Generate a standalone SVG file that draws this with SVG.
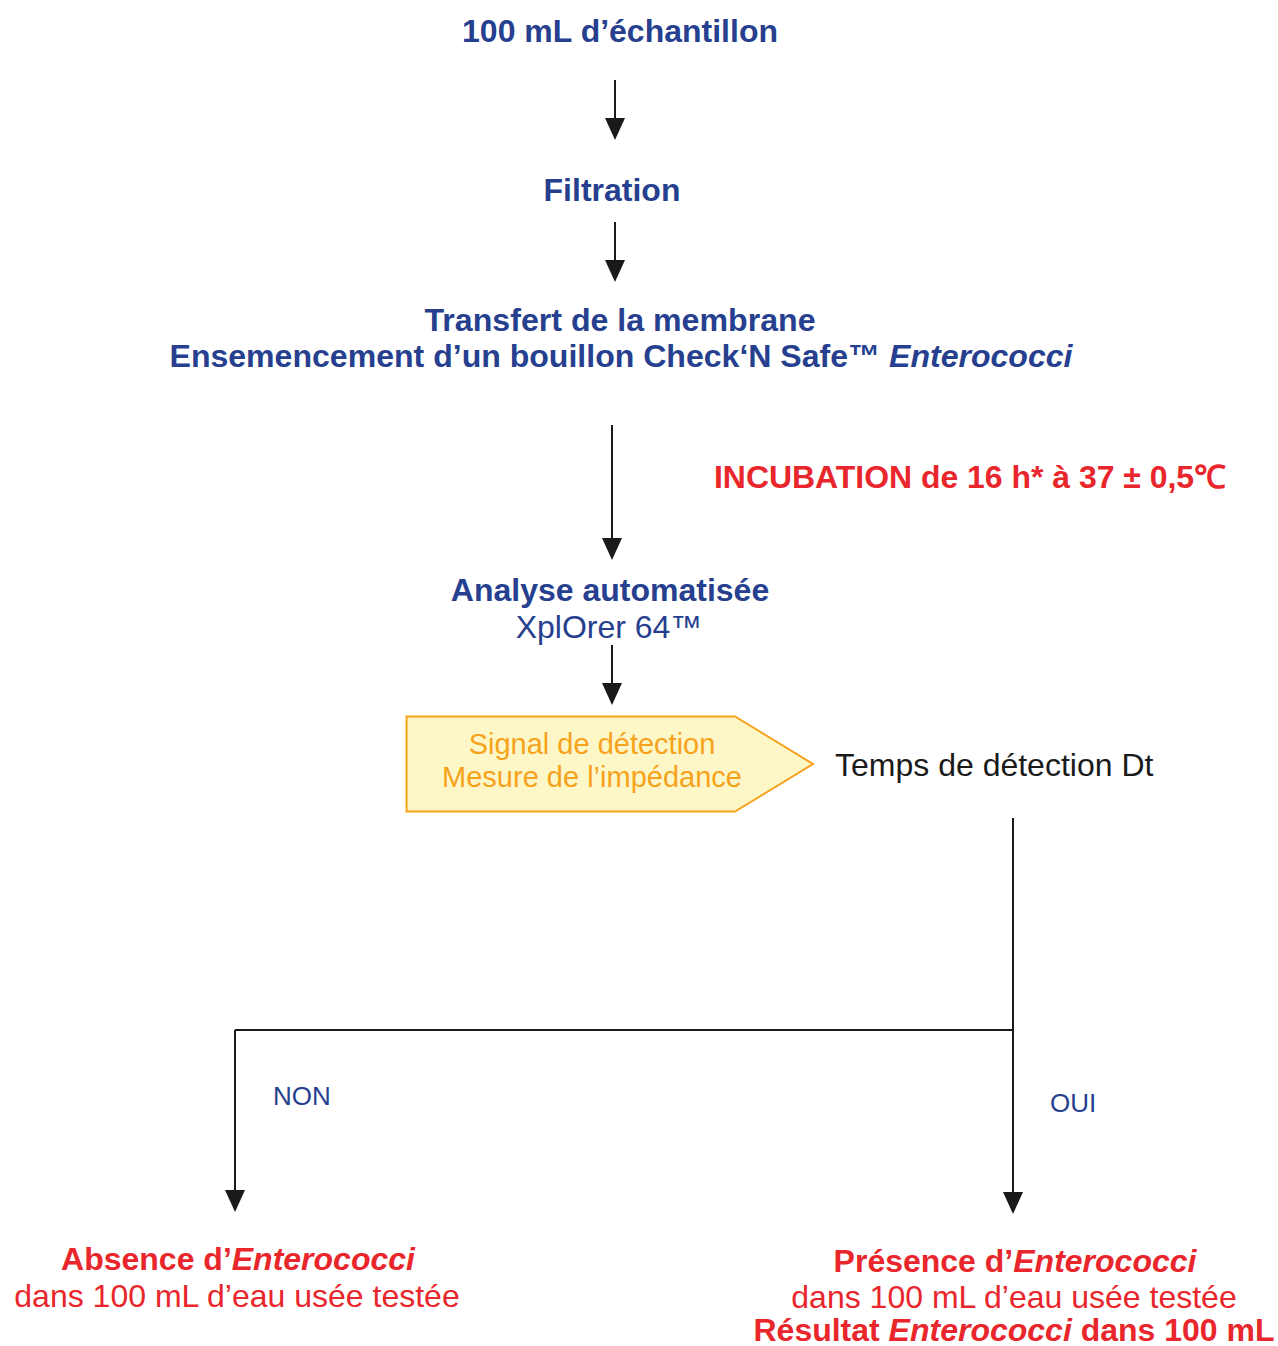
<svg xmlns="http://www.w3.org/2000/svg" width="1278" height="1346" viewBox="0 0 1278 1346">
<style>
.b{font-family:"Liberation Sans",Arial,sans-serif;font-weight:bold;fill:#263f8f;font-size:32px;text-anchor:middle}
.bl{font-family:"Liberation Sans",Arial,sans-serif;fill:#263f8f;font-size:32px;text-anchor:middle}
.r{font-family:"Liberation Sans",Arial,sans-serif;font-weight:bold;fill:#e8262b;font-size:32px;text-anchor:middle}
.rl{font-family:"Liberation Sans",Arial,sans-serif;fill:#e8262b;font-size:32px;text-anchor:middle}
.o{font-family:"Liberation Sans",Arial,sans-serif;fill:#f7a21b;font-size:29px;text-anchor:middle}
.k{font-family:"Liberation Sans",Arial,sans-serif;fill:#1a1a1a;font-size:32px}
.s{font-family:"Liberation Sans",Arial,sans-serif;fill:#263f8f;font-size:26px}
.ln{stroke:#1a1a1a;stroke-width:2;fill:none}
.ah{fill:#1a1a1a}
</style>
<g id="connectors">
<line class="ln" x1="615" y1="80" x2="615" y2="118"/>
<line class="ln" x1="615" y1="222" x2="615" y2="260"/>
<line class="ln" x1="612" y1="425" x2="612" y2="538"/>
<line class="ln" x1="612" y1="645" x2="612" y2="683"/>
<line class="ln" x1="1013" y1="818" x2="1013" y2="1192"/>
<line class="ln" x1="235" y1="1030" x2="1013" y2="1030"/>
<line class="ln" x1="235" y1="1030" x2="235" y2="1190"/>
<path class="ah" d="M605,118 L625,118 L615,140 Z"/>
<path class="ah" d="M605,260 L625,260 L615,282 Z"/>
<path class="ah" d="M602,538 L622,538 L612,560 Z"/>
<path class="ah" d="M602,683 L622,683 L612,705 Z"/>
<path class="ah" d="M1003,1192 L1023,1192 L1013,1214 Z"/>
<path class="ah" d="M225,1190 L245,1190 L235,1212 Z"/>
<text class="s" x="273" y="1105">NON</text>
<text class="s" x="1050" y="1112">OUI</text>
</g>
<g id="sample"><text class="b" x="620" y="42">100 mL d’échantillon</text></g>
<g id="filtration"><text class="b" x="612" y="201">Filtration</text></g>
<g id="transfer">
<text class="b" x="620" y="331" font-size="31" textLength="391" lengthAdjust="spacingAndGlyphs">Transfert de la membrane</text>
<text class="b" x="621" y="367" font-size="31" textLength="903" lengthAdjust="spacingAndGlyphs">Ensemencement d’un bouillon Check‘N Safe™ <tspan font-style="italic">Enterococci</tspan></text>
</g>
<g id="incubation"><text class="r" x="970" y="488" font-size="30" textLength="512" lengthAdjust="spacingAndGlyphs">INCUBATION de 16 h* à 37 ± 0,5℃</text></g>
<g id="analyse">
<text class="b" x="610" y="601">Analyse automatisée</text>
<text class="bl" x="609" y="638">XplOrer 64™</text>
</g>
<g id="signal">
<path d="M406.5,716.5 L735,716.5 L813,764 L735,811.5 L406.5,811.5 Z" fill="#fdf7c8" stroke="#f7a21b" stroke-width="2"/>
<text class="o" x="592" y="754">Signal de détection</text>
<text class="o" x="592" y="787">Mesure de l’impédance</text>
</g>
<g id="temps"><text class="k" x="835" y="776">Temps de détection Dt</text></g>
<g id="absence">
<text class="r" x="238" y="1270">Absence d’<tspan font-style="italic">Enterococci</tspan></text>
<text class="rl" x="237" y="1307">dans 100 mL d’eau usée testée</text>
</g>
<g id="presence">
<text class="r" x="1015" y="1272">Présence d’<tspan font-style="italic">Enterococci</tspan></text>
<text class="rl" x="1014" y="1308">dans 100 mL d’eau usée testée</text>
<text class="r" x="1014" y="1341" font-size="31">Résultat <tspan font-style="italic">Enterococci</tspan> dans 100 mL</text>
</g>
</svg>
